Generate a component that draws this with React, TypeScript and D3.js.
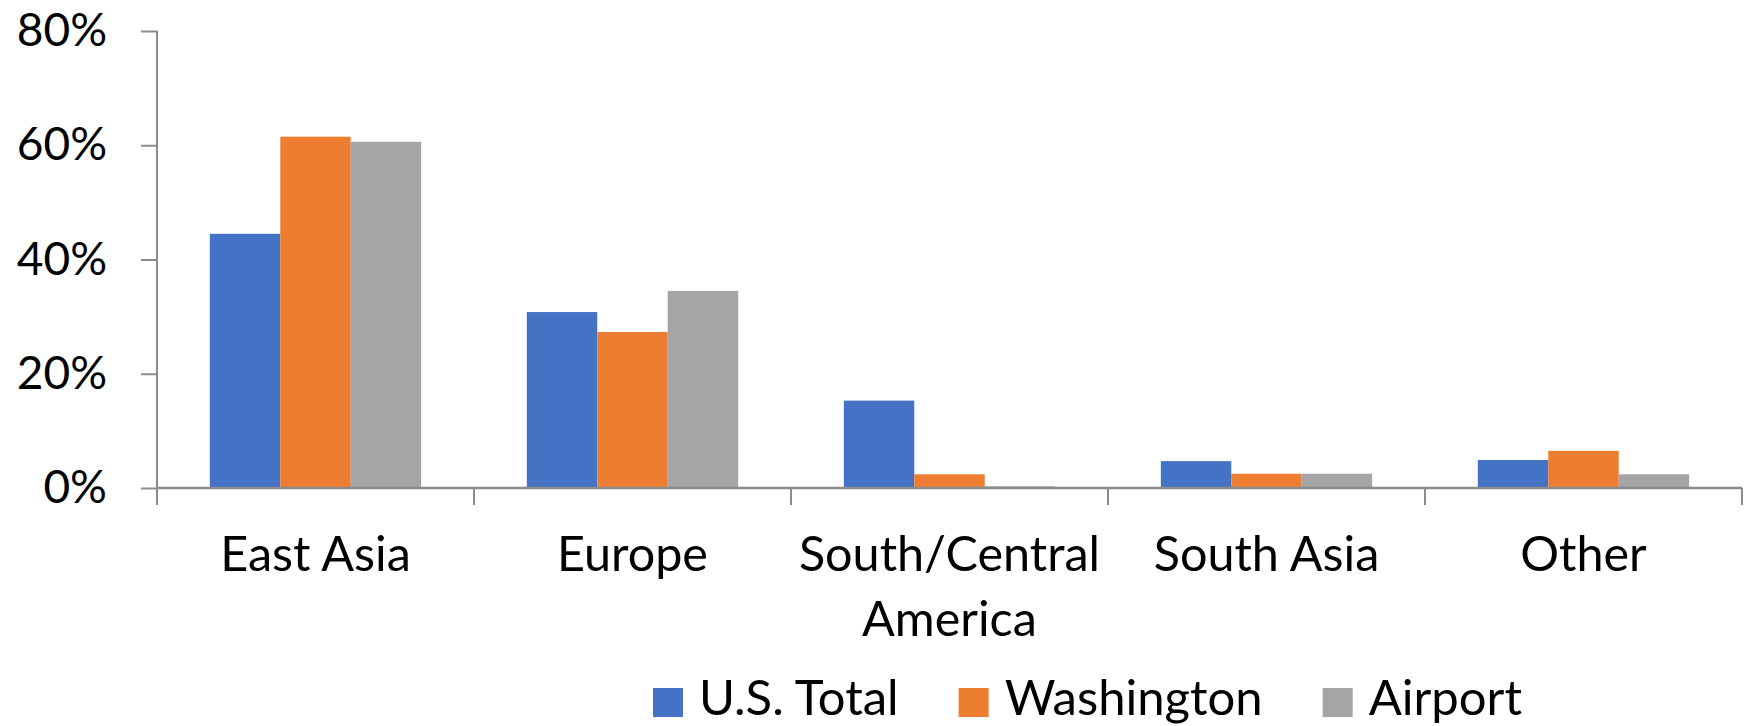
import React, { useEffect, useRef } from "react";
import * as d3 from "d3";

const categories = ["East Asia", "Europe", "South/Central America", "South Asia", "Other"];
const categoryLines = [["East Asia"], ["Europe"], ["South/Central", "America"], ["South Asia"], ["Other"]];
const seriesNames = ["U.S. Total", "Washington", "Airport"];
const usTotal = [0.445, 0.308, 0.153, 0.047, 0.049];
const washington = [0.615, 0.273, 0.024, 0.025, 0.065];
const airport = [0.606, 0.345, 0.003, 0.025, 0.024];
const yTicks = [0, 0.2, 0.4, 0.6, 0.8];
const colors = ["#4472C4", "#ED7D31", "#A5A5A5"];

const W = 1754;
const H = 726;
const FONT = "Lato, 'Open Sans', sans-serif";

function App() {
  const ref = useRef<SVGSVGElement | null>(null);

  useEffect(() => {
    const svg = d3.select(ref.current);
    svg.selectAll("*").remove();

    const margin = { top: 31, right: 12, bottom: 238, left: 157 };
    const plotBottom = H - margin.bottom;
    const axisColor = "#8c8c8c";

    const x0 = d3.scaleBand<string>()
      .domain(categories)
      .range([margin.left, W - margin.right])
      .padding(0);

    const x1 = d3.scaleBand<string>()
      .domain(seriesNames)
      .range([0, x0.bandwidth()])
      .paddingInner(0)
      .paddingOuter(0.75);

    const y = d3.scaleLinear().domain([0, 0.8]).range([plotBottom, margin.top]);

    const series = [usTotal, washington, airport];

    // bars
    const groups = svg.append("g").selectAll("g")
      .data(categories)
      .join("g")
      .attr("transform", (d) => `translate(${x0(d)},0)`);

    groups.selectAll("rect")
      .data((_d, i) => seriesNames.map((s, k) => ({ s, k, v: series[k][i] })))
      .join("rect")
      .attr("x", (d) => x1(d.s) as number)
      .attr("width", x1.bandwidth())
      .attr("y", (d) => y(d.v))
      .attr("height", (d) => plotBottom - y(d.v))
      .attr("fill", (d) => colors[d.k]);

    // y axis
    const yAxis = svg.append("g")
      .attr("transform", `translate(${margin.left},0)`)
      .call(
        d3.axisLeft(y)
          .tickValues(yTicks)
          .tickFormat(d3.format(".0%") as any)
          .tickSize(16)
          .tickPadding(34)
      );
    yAxis.select(".domain").remove();
    yAxis.selectAll(".tick line").attr("stroke", axisColor).attr("stroke-width", 2);
    yAxis.selectAll(".tick text")
      .attr("font-family", FONT)
      .attr("font-size", 46)
      .attr("fill", "#000");

    svg.append("line")
      .attr("x1", margin.left).attr("x2", margin.left)
      .attr("y1", margin.top).attr("y2", plotBottom + 17)
      .attr("stroke", axisColor).attr("stroke-width", 2);

    // x axis
    svg.append("line")
      .attr("x1", margin.left).attr("x2", W - margin.right)
      .attr("y1", plotBottom).attr("y2", plotBottom)
      .attr("stroke", axisColor).attr("stroke-width", 2.5);

    const bounds = categories.map((c) => x0(c) as number).concat([W - margin.right]);
    svg.append("g").selectAll("line")
      .data(bounds.slice(1))
      .join("line")
      .attr("x1", (d) => d).attr("x2", (d) => d)
      .attr("y1", plotBottom).attr("y2", plotBottom + 17)
      .attr("stroke", axisColor).attr("stroke-width", 2);

    const labels = svg.append("g").selectAll("text")
      .data(categories)
      .join("text")
      .attr("x", (d) => (x0(d) as number) + x0.bandwidth() / 2)
      .attr("y", plotBottom + 83)
      .attr("text-anchor", "middle")
      .attr("font-family", FONT)
      .attr("font-size", 48.5)
      .attr("fill", "#000");
    labels.each(function (_d, i) {
      const t = d3.select(this);
      categoryLines[i].forEach((line, j) => {
        t.append("tspan")
          .attr("x", t.attr("x"))
          .attr("dy", j === 0 ? 0 : 65)
          .text(line);
      });
    });

    // legend
    const legend = svg.append("g").attr("transform", `translate(653,715)`);
    let cx = 0;
    seriesNames.forEach((name, k) => {
      legend.append("rect")
        .attr("x", cx).attr("y", -27)
        .attr("width", 30).attr("height", 29)
        .attr("fill", colors[k]);
      const txt = legend.append("text")
        .attr("x", cx + 46).attr("y", 0)
        .attr("font-family", FONT)
        .attr("font-size", 49)
        .attr("fill", "#000")
        .text(name);
      const w = (txt.node() as SVGTextElement).getComputedTextLength();
      cx = cx + 46 + w + 60;
    });
  }, []);

  return (
    <div style={{ position: "absolute", left: 0, top: 0 }}>
      <svg ref={ref} width={W} height={H} style={{ display: "block", background: "#fff" }} />
    </div>
  );
}

export default App;
